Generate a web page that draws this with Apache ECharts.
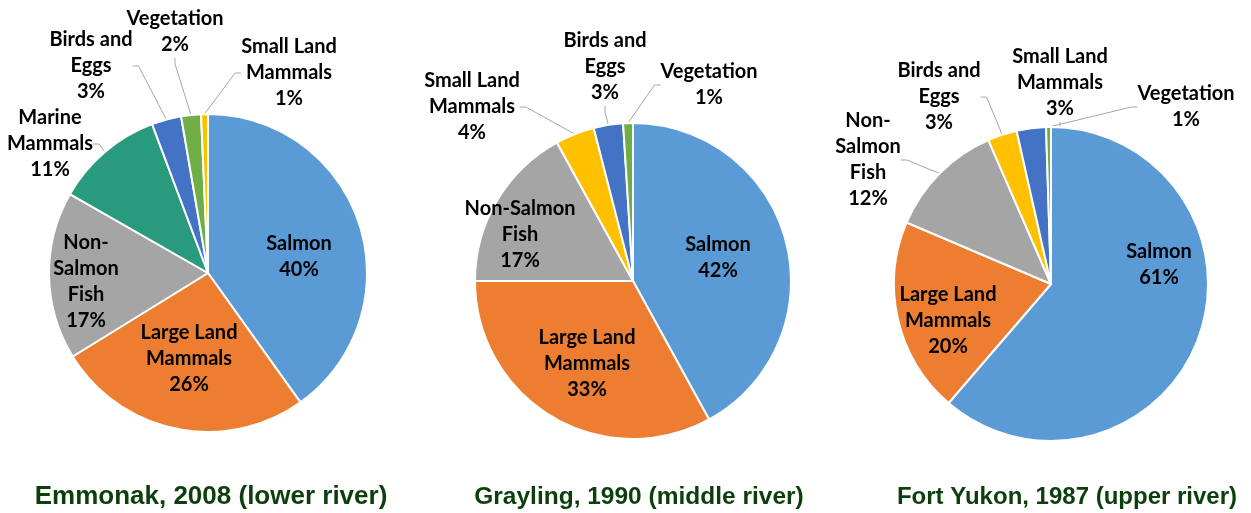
<!DOCTYPE html>
<html lang="en">
<head>
<meta charset="utf-8">
<script src="https://cdn.jsdelivr.net/npm/echarts@6/dist/echarts.min.js"></script>
<style>
  html, body { margin: 0; padding: 0; background: #fff; }
  #main { width: 1251px; height: 513px; }
</style>
</head>
<body>
<div id="main"></div>
<script>
// data (percent of harvest)
var names1 = ['Salmon', 'Large Land\nMammals', 'Non-\nSalmon\nFish', 'Marine\nMammals', 'Birds and\nEggs', 'Vegetation', 'Small Land\nMammals'];
var values1 = [40, 26, 17, 11, 3, 2, 0.7];
var colors1 = ['#5B9BD5', '#ED7D31', '#A5A5A5', '#2A9A7E', '#4472C4', '#70AD47', '#FFC000'];

var names2 = ['Salmon', 'Large Land\nMammals', 'Non-Salmon\nFish', 'Small Land\nMammals', 'Birds and\nEggs', 'Vegetation'];
var values2 = [42, 33, 17, 4, 3, 1];
var colors2 = ['#5B9BD5', '#ED7D31', '#A5A5A5', '#FFC000', '#4472C4', '#70AD47'];

var names3 = ['Salmon', 'Large Land\nMammals', 'Non-\nSalmon\nFish', 'Birds and\nEggs', 'Small Land\nMammals', 'Vegetation'];
var values3 = [61, 20, 12, 3, 3, 0.5];
var colors3 = ['#5B9BD5', '#ED7D31', '#A5A5A5', '#FFC000', '#4472C4', '#70AD47'];

var titles = ['Emmonak, 2008 (lower river)', 'Grayling, 1990 (middle river)', 'Fort Yukon, 1987 (upper river)'];

// where each label sits (like Excel's hand-placed labels)
var labelPos1 = [[299, 257], [189, 359], [86, 282], [50, 144], [91, 66], [175, 32], [289, 73]];
var labelPos2 = [[718, 258], [587, 364], [520, 235], [472, 107], [605, 67], [709, 85]];
var labelPos3 = [[1159, 265], [948, 321], [868, 160], [939, 97], [1060, 83], [1186, 107]];

var chart = echarts.init(document.getElementById('main'));

function makeData(names, values, colors, insideCount) {
    var arr = [];
    for (var i = 0; i < names.length; i++) {
        arr.push({
            name: names[i],
            value: values[i],
            itemStyle: { color: colors[i] },
            labelLine: { show: i >= insideCount }
        });
    }
    return arr;
}

function makePie(center, radius, data, labelPos) {
    return {
        type: 'pie',
        center: center,
        radius: radius,
        startAngle: 90,
        clockwise: true,
        avoidLabelOverlap: false,
        animation: false,
        itemStyle: { borderColor: '#fff', borderWidth: 2 },
        label: {
            show: true,
            position: 'outside',
            color: '#000',
            fontFamily: 'Lato',
            fontWeight: 'bold',
            fontSize: 20,
            lineHeight: 26,
            formatter: function (p) {
                return p.name + '\n' + Math.round(p.value) + '%';
            }
        },
        labelLine: {
            show: true,
            length: 10,
            length2: 6,
            lineStyle: { color: '#A6A6A6', width: 1 }
        },
        labelLayout: function (p) {
            var pos = labelPos[p.dataIndex];
            return { x: pos[0], y: pos[1], align: 'center', verticalAlign: 'middle' };
        },
        data: data
    };
}

var option = {
    backgroundColor: '#fff',
    graphic: [
        { type: 'text', x: 211, y: 497, style: { text: titles[0], textAlign: 'center', textVerticalAlign: 'middle', fill: '#0D3F0D', font: 'bold 26px "Liberation Sans", Arial' } },
        { type: 'text', x: 639, y: 497, style: { text: titles[1], textAlign: 'center', textVerticalAlign: 'middle', fill: '#0D3F0D', font: 'bold 24.5px "Liberation Sans", Arial' } },
        { type: 'text', x: 1067, y: 497, style: { text: titles[2], textAlign: 'center', textVerticalAlign: 'middle', fill: '#0D3F0D', font: 'bold 24px "Liberation Sans", Arial' } }
    ],
    series: [
        makePie([208, 273], 159, makeData(names1, values1, colors1, 3), labelPos1),
        makePie([633, 281], 158, makeData(names2, values2, colors2, 3), labelPos2),
        makePie([1051, 284], 157, makeData(names3, values3, colors3, 2), labelPos3)
    ]
};

chart.setOption(option);
</script>
</body>
</html>
